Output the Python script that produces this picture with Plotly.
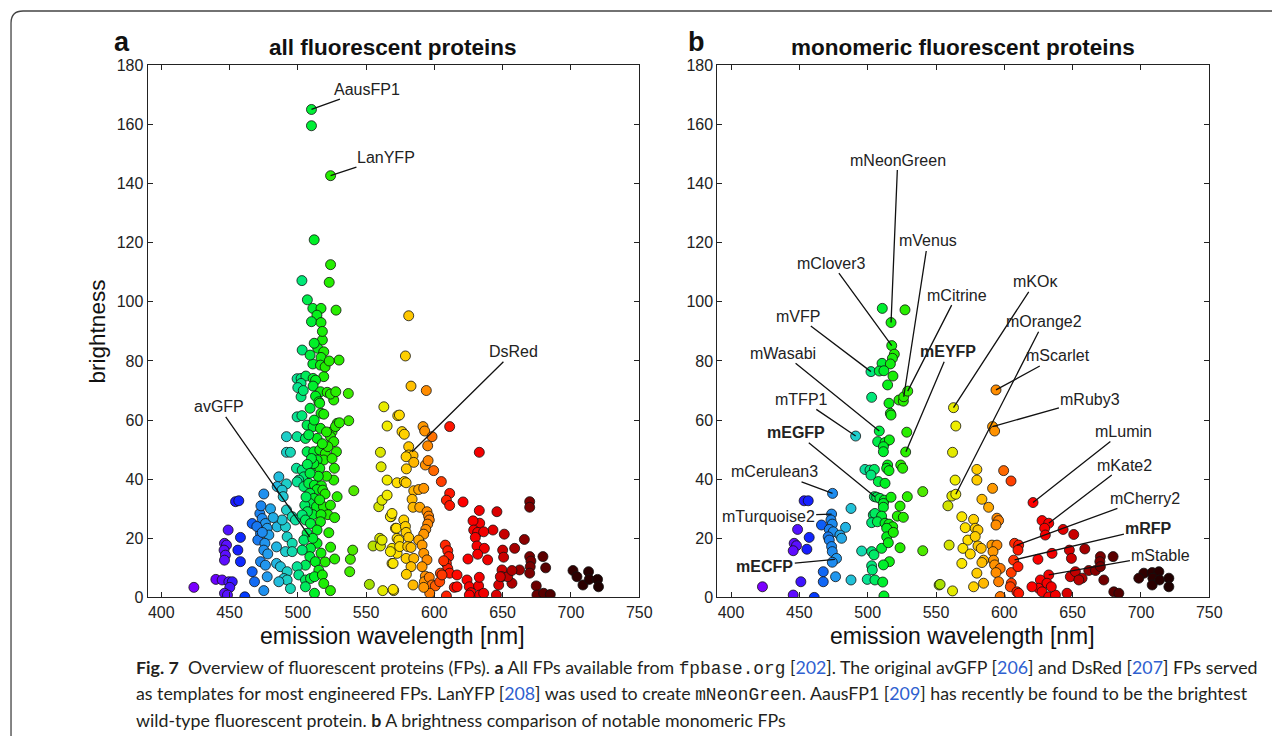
import plotly.graph_objects as go

# ---------------- data: panel a (all FPs) ----------------
wl_all = [
    510, 510, 524, 512, 524, 503, 523, 507, 511, 517, 528, 514, 510, 517, 518,
    514.6, 519, 503.2, 517, 530.2, 511, 516.6, 519, 499.5, 502.4, 505.9, 502.4, 511.2, 513, 502.4,
    511.2, 516.6, 521.5, 526.3, 523.9, 527.8, 513, 515.4, 537, 516, 517, 499.5, 503, 537.3, 506.8,
    511.2, 516.6, 525.1, 528.8, 527.6, 530.5, 491.7, 499.5, 505.6, 514.1, 523.9, 526.3, 528.3, 506.8, 511.7,
    516.1, 520.2, 519, 514.1, 510.5, 525.1, 526.8, 491.7, 494.6, 499, 503.2, 504.4, 500.7, 499.5, 516.1,
    511.7, 486.1, 526.3, 541, 475.1, 491.7, 484.9, 488.5, 489.3, 504.4, 508, 512.2, 517.3, 514.1, 508.8,
    518.3, 528.8, 511.7, 508.8, 513.7, 518.8, 523.9, 505.1,
    509, 512, 519, 521, 508, 522, 518, 510, 507, 521, 515, 509, 520, 506, 516, 522, 527, 511, 517, 507,
    500, 504, 520, 523, 518, 512, 509,
    466.6, 472.2, 473.9, 476.3, 477.6, 472.7, 478.8, 470.7, 475.9, 475.1, 478, 472.7, 476.3, 484.9, 491,
    488.5, 491.7, 495.9, 498.3, 492.2, 495.9, 503.2, 505.6, 509.3, 516.6, 522.7, 514.1, 506.8, 504.4, 514.1,
    509.3, 503.2, 508.8, 512.9, 505.6, 499.5, 515.4, 484.4, 491, 495.9, 484.4, 487.3, 492.2, 500.7, 505.6,
    509.3, 512.2, 518, 519, 523.9, 512.2, 505.6, 480, 482, 473, 470, 474, 517, 520, 511,
    454.4, 456.8, 449, 446.3, 447.8, 446, 447, 446.3, 458, 456.1, 458, 423.9, 440, 444.6, 449.5,
    452, 450.2, 446.3, 448.5, 461.2, 466.6, 468.3, 475.1, 477.6, 489.8, 492.2, 486.1, 494.6,
    538, 538.5, 540.2, 552.4, 524, 527,
    555.1, 560.5, 560, 561.7, 562.2, 570.2, 559.3, 561.7, 565.4, 563, 565.4, 573.2, 560.5, 561, 565.4,
    568.3, 571.5, 572.7, 569, 572.7, 569,
    581.2, 578.8, 582.9, 594.1, 574.4, 576.3, 578, 591.7, 592.9, 598.3, 595.1, 611.2, 581.2, 581.2, 584.4,
    579.3, 584.9, 579.5, 593.4, 595.4, 599.5, 605.1, 632.9, 572.7, 578, 579.3, 584.9, 588.5, 592.2, 583.7,
    584.4, 589.3, 594.6, 595.8, 596.3, 595.1, 593.7, 592.2, 611.2, 608.8, 611.2, 621, 632.9, 645.8, 669.8,
    669.8, 665.9, 651.2, 642.9, 633.2, 628.3, 628.8, 631.7, 636.1, 630, 631.2, 636.6, 639, 631.7, 624.6,
    658.8, 650, 650.7, 649.5, 649.5, 647.1, 645.4, 656.8, 653.7, 662.4, 656.8, 648.3, 679.5, 681.5, 669.8,
    670.7, 670.2, 669.8, 674.6, 675.1, 680, 684.9, 701.5, 704.4, 708.8, 712.9, 713.4, 719.5, 720.2,
    608, 609.8, 610.5, 608.8, 609.8, 611.2, 606.8, 604.4, 616.6, 614.6, 608.8, 616.6, 623.9, 625.6, 626.8,
    632.4, 633.2, 632.9, 625.6, 636.1,
    567.8, 569, 572.2, 573.9, 574.6, 577.6, 578.8, 579.3, 581.2, 580.5, 582.9, 579.3, 584.9, 582.9, 579.5,
    584.4, 569.8, 569.8, 567.8,
    588.5, 591, 592.2, 594.6, 591, 593.4, 592.7, 596.3, 598.3, 600.7, 596.6, 592.2, 603.9, 605.6,
]
br_all = [
    165.1, 159.6, 142.7, 121, 112.6, 107.2, 106.6, 100.7, 97.8, 97.8, 97.2, 95.5, 93.3, 93, 87.1,
    84.3, 83.1, 83.7, 81.2, 80.3, 79, 78.6, 74.7, 74, 74.1, 74.9, 72.4, 74.1, 73.5, 67.9,
    71.5, 69.6, 69.4, 66.8, 68.8, 69.6, 68.1, 66.2, 69, 65.7, 62.3, 61.1, 61.5, 59.8, 58.3,
    57.8, 57.2, 56.1, 58.9, 57.8, 59.1, 54.4, 54.4, 53.8, 53.8, 54.4, 52.7, 49.3, 49.3, 49.3,
    49.9, 48.7, 46.5, 46.5, 44.2, 47, 43.7, 49.1, 49.1, 43.7, 43.1, 40.8, 39.7, 39.1, 43.7,
    45.3, 40.8, 39.7, 36.1, 35, 38.4, 37.5, 36.3, 34.1, 37.5, 38.6, 38, 37.8, 36.5, 35.2,
    36.3, 34.1, 33.5, 31.8, 30.7, 30.7, 31.2, 31.2,
    64, 60, 62, 56, 55, 51, 52, 47, 45, 41, 41, 42, 35, 34, 33, 28, 27, 28, 28, 29,
    71, 70, 78, 80, 90, 86, 82,
    25, 28.4, 26.7, 25, 23.4, 21.7, 21.1, 19.4, 18.3, 16, 14.7, 12.1, 10.9, 23.9, 23.9,
    26.2, 29.6, 27.3, 26.2, 20.5, 18.3, 27.9, 26.2, 25, 25.6, 21.9, 22.8, 21.7, 19.4, 18.3,
    16.6, 16, 13.8, 12.1, 10.9, 10.4, 9.2, 17.1, 15.5, 15.5, 11.5, 10.4, 8.7, 7.6, 5.9,
    6.4, 7, 7.6, 4.7, 2.3, 1.4, 3.6, 30, 27, 31, 24, 22, 15, 12, 20,
    32.4, 32.7, 22.8, 18.3, 17.7, 16, 14.3, 12.6, 20.3, 16, 12.1, 3.4, 6.1, 5.9, 5.3,
    5.3, 3.4, 1.4, 0.8, 0.2, 8.7, 5.3, 2.3, 7, 6.4, 5.9, 5.3, 3,
    8.7, 12.9, 16, 4.4, 17, 13,
    17.4, 17.4, 20, 19.4, 2.3, 2.3, 30.7, 32.9, 34.6, 64.5, 58, 61.5, 49.1, 44.2, 39.7,
    27.3, 23.4, 20, 16.6, 14.9, 11.5,
    95.3, 81.7, 71.5, 70, 61.7, 56.1, 55.2, 57.8, 56.3, 54.4, 51.3, 57.8, 51, 48.2, 48,
    47.6, 45.7, 43.5, 44.8, 46.3, 42.9, 39.2, 49.1, 38.8, 39.2, 38.8, 36.1, 36.5, 36.9, 33.2,
    30.5, 30.5, 29, 27.5, 26.2, 24.8, 23, 21.4, 35.2, 32.9, 31.1, 32.3, 29.4, 29, 32.4,
    30.5, 19.6, 21.4, 22.8, 25.1, 25.9, 22.8, 22, 22.2, 20.3, 17.4, 16.6, 12.7, 14.6, 13,
    16.6, 16, 13.6, 9.3, 7, 4.2, 0.8, 4.8, 7, 9.3, 9.1, 7, 13.8, 10, 13.8,
    12.3, 10.4, 8.2, 3.9, 0.8, 1.4, 1, 9.1, 7, 4.2, 8.7, 6.1, 6.1, 3.6,
    17.7, 15.8, 13.8, 11.5, 9.8, 8.2, 12.4, 8.2, 7.6, 3.4, 0.5, 3.6, 5.9, 3.6, 1.6,
    3.9, 0.8, 6.8, 0.8, 1.4,
    27.3, 28.4, 23.4, 19.4, 17.2, 26.2, 24, 22, 20.3, 17.2, 16.9, 13.2, 13.2, 10.4, 7.8,
    4.2, 2.7, 11.5, 15.5,
    19.4, 17.7, 14.9, 12.7, 10.4, 7.2, 5.3, 6.8, 4.2, 3.9, 1.4, 3.4, 5.3, 7.6,
]

# ---------------- data: panel b (monomeric FPs) ----------------
wl_mono = [
    510.7, 517.1, 527.3, 517.6, 519.5, 518.1, 510.5, 516.6, 518.5, 502.4, 508.5, 511.9, 514.6, 502.9, 522.9,
    526.1, 526.4, 529.3, 515.6, 516.6, 517.1,
    491.2, 508.5, 528.6, 507.3, 512.7, 515.9, 511.5, 511.5, 527.8, 514.6, 513.9, 515.6, 524.2, 525.6,
    498, 501.7, 504.9, 502.4, 507.8, 512.7, 540.3, 474.3, 504.9, 506.6, 509, 512.2, 511.5, 511.5, 517.1,
    529, 523.7, 521.7, 526.1, 453.5, 456.5, 487.8, 473.6, 504.1, 505.3, 510.2, 502.9, 507.1, 512.7, 515.6,
    518.3, 513.9, 513.9, 518.8, 473.1, 474.1, 466.2, 471.9, 474.8, 483.8, 479.7, 480.9, 471.1, 471.9,
    448.7, 457.2, 446.2, 447.9, 445.5, 455.5, 473.6, 474.1, 477.2, 474.1, 495.6, 502.9, 504.6, 510.2,
    515.1, 515.9, 511.5, 502.9, 503.4, 523.7, 540.3, 467.5, 467.5, 476.5, 451.1, 487.8, 499.7, 505.3, 511,
    423, 445.5, 460.9, 511.9, 552.3,
    562.8, 564.5, 562.1, 564, 561.6, 564.5, 558.7, 559.6, 553, 562.1,
    593.9, 591.4, 592.9, 579.9, 579.9, 583.6, 588.5, 591.4, 594.6, 595.8, 593.9, 599.5, 604.9,
    568.9, 571.4, 573.3, 577.5, 578.7, 580.7, 578.7, 569.7, 575.1, 568.9, 580.7, 583.1, 584.8, 583.6,
    579.9, 584.8, 577.5, 590.9, 594.6, 591.7, 592.1, 592.9, 597, 593.9, 595.8, 597,
    605.1, 605.1, 604.4, 609.2, 610.5, 607.5, 610.5, 610, 606.8, 610,
    621, 627.6, 632.5, 629.5, 630, 643, 650.8, 647.6, 634.9, 649.1, 658.9, 624.6, 632.5, 626.4, 631.2,
    625.1, 620.2, 627.6, 632.5, 637.4, 645.9, 648.3, 652, 656.9, 661.8, 666.7, 670.3, 669.9, 670.3, 672.8,
    679.6, 680.1, 683.8, 634.4, 654.5,
    702.1, 708.2, 713.1, 708.7, 708.2, 713.6, 720.4, 720.4, 698.4,
]
br_mono = [
    97.8, 93, 97.3, 85.2, 82.3, 80.9, 79.2, 79, 74.9, 76.4, 76.6, 76.7, 71.9, 67.7, 66.8,
    66.4, 67.9, 69.8, 65.7, 62.3, 61.7,
    54.6, 56.3, 55.9, 52.7, 52.4, 53.3, 51, 49.3, 49.2, 44.8, 43.7, 42.9, 44.8, 43.7,
    43.3, 43.1, 43.3, 41.4, 39.2, 38.6, 35.8, 35.2, 34.1, 33.9, 33.5, 32.9, 31.8, 30.5, 33.9,
    34.1, 30.9, 27.5, 27.1, 32.7, 32.7, 30.1, 28.2, 27.9, 28.4, 27.5, 25.3, 25.6, 25.1, 24.8,
    23.9, 23.4, 20.5, 22, 26.2, 24.8, 24.5, 23, 22.2, 23.7, 21.1, 20, 20.5, 19.4,
    23, 20.3, 18.3, 17.5, 15.8, 16.3, 17.2, 15.5, 13.2, 11.9, 15.7, 15.5, 14.4, 16.6,
    18.5, 12.1, 11, 10.7, 9.3, 16.8, 15.8, 8.7, 5.3, 7, 5.3, 5.9, 6.1, 5.9, 5.2,
    3.6, 0.8, 0, 0.5, 4.2,
    64.2, 58, 49.1, 39.7, 34.3, 34.9, 31, 17.7, 4.4, 2.2,
    70.2, 57.8, 56.3, 43.3, 39.7, 33.2, 30.5, 36.9, 26.8, 26, 24.5, 42.9, 39.4,
    27.3, 23.6, 19.4, 26.4, 23.4, 22.8, 20.6, 16.6, 14.7, 11.5, 17.4, 16.6, 12.6, 11.8,
    8.2, 4.8, 3.6, 17.7, 17.7, 15.5, 12.6, 11, 9.8, 8.4, 5.3, 0.3,
    8.4, 4.8, 3.6, 1.9, 1.4, 18.3, 17.7, 16, 12.6, 10.4,
    32.1, 26, 25.1, 23.4, 21.1, 23, 21.3, 16, 14.9, 13.2, 16.4, 12.9, 7.6, 5.9, 4.8,
    3.1, 3.6, 1.9, 0.2, 0.8, 1.4, 7, 8.7, 6.5, 9.1, 9.1, 13.8, 12.1, 10.4, 5.9,
    13.8, 1.9, 1.4, 3.6, 5.9,
    8.2, 8.4, 8.7, 6.5, 4.2, 5.9, 6.5, 3.6, 6.5,
]

# labelled proteins: name, wavelength, brightness of the labelled point
names_a = ["AausFP1", "LanYFP", "avGFP", "DsRed"]
names_a_wl = [510, 524, 508.7, 583.7]
names_a_br = [165.1, 142.7, 20.5, 49.3]

names_b = ["mNeonGreen", "mVenus", "mClover3", "mCitrine", "mVFP", "mWasabi", "mTFP1",
           "<b>mEGFP</b>", "mCerulean3", "mTurquoise2", "<b>mECFP</b>", "<b>mEYFP</b>",
           "mKOκ", "mOrange2", "mScarlet", "mRuby3", "mLumin", "mKate2", "mCherry2",
           "<b>mRFP</b>", "mStable"]
names_b_wl = [517.1, 526.4, 517.6, 529.3, 502.4, 508.5, 491.2, 505.3, 474.3, 473.6, 476.0, 528.0,
              562.8, 564.5, 593.9, 591.4, 621.0, 632.5, 609.2, 607.5, 632.5]
names_b_br = [93.0, 67.9, 85.2, 69.8, 76.4, 56.3, 54.6, 34.1, 35.2, 28.2, 12.9, 49.3,
              64.2, 34.9, 70.2, 57.8, 32.1, 25.1, 17.7, 12.7, 7.6]

# label text placement (data units of the respective panel)
lab_a_x = [550.9, 564.9, 442.1, 658.0]
lab_a_y = [172.0, 149.0, 64.5, 83.1]
lab_b_x = [522.0, 544.0, 473.6, 565.2, 448.7, 438.2, 451.6, 447.9, 432.0, 427.2, 424.7, 559.1,
           622.6, 628.8, 639.3, 663.0, 686.9, 688.2, 702.8, 705.8, 714.6]
lab_b_y = [148.0, 120.6, 113.1, 102.3, 95.2, 82.6, 67.0, 55.7, 42.5, 27.5, 10.6, 83.1,
           106.8, 93.3, 81.7, 67.1, 56.1, 44.8, 33.5, 23.4, 14.3]

x_ticks = [400, 450, 500, 550, 600, 650, 700, 750]
y_ticks = [0, 20, 40, 60, 80, 100, 120, 140, 160, 180]

# ---------------- styling ----------------
W, H = 1285, 745
FONT = "Liberation Sans, Arial, sans-serif"
# page -> picture correction measured from earlier renders
SX, SY, OY = 0.988, 0.978, 7.5

stops = [(420, '#7f00ff'), (440, '#6a00ff'), (448, '#5a10ff'), (455, '#1a1aff'), (462, '#0040ff'),
         (470, '#1878f0'), (477, '#2299ee'), (485, '#22b8e0'), (491, '#20cccc'), (497, '#10dda8'),
         (503, '#00e878'), (508, '#00ee44'), (513, '#00f020'), (520, '#22ee00'), (535, '#30ee00'),
         (545, '#66e600'), (552, '#a0e000'), (558, '#cce000'), (564, '#eeee00'), (572, '#ffe000'),
         (580, '#ffcc00'), (588, '#ffaa00'), (595, '#ff8800'), (602, '#ff5500'), (610, '#ff1800'),
         (620, '#ff0000'), (640, '#ee0000'), (650, '#cc0000'), (660, '#a00000'), (670, '#7a0000'),
         (680, '#5a0000'), (695, '#380000'), (720, '#200000')]
cmin, cmax = 420, 720
cscale = [[(w - cmin) / (cmax - cmin), c] for w, c in stops]


def px(x):
    return min(1.0, (x / SX) / W)


def py(y):
    return max(0.0, 1 - ((y - OY) / SY) / H)


fig = go.Figure()
for wl, br, xa, ya in [(wl_all, br_all, 'x', 'y'), (wl_mono, br_mono, 'x2', 'y2')]:
    fig.add_trace(go.Scatter(
        x=wl, y=br, mode='markers', xaxis=xa, yaxis=ya, showlegend=False, hoverinfo='x+y',
        marker=dict(size=10, color=wl, colorscale=cscale, cmin=cmin, cmax=cmax,
                    line=dict(color='#111', width=0.8), opacity=1)))

dom_a = [px(147.3), px(638)]
dom_b = [px(716), px(1207)]
dom_y = [py(597.4), py(65)]

axis_common = dict(showgrid=False, zeroline=False, showline=True, linecolor='#222', linewidth=1,
                   mirror='ticks', ticks='inside', ticklen=5, tickcolor='#222', tickwidth=1,
                   tickfont=dict(family=FONT, size=16, color='#222'))
fig.update_layout(
    width=W, height=H, margin=dict(l=0, r=0, t=0, b=0),
    paper_bgcolor='white', plot_bgcolor='white',
    xaxis=dict(domain=dom_a, range=[390, 750], tickvals=x_ticks, anchor='y', **axis_common),
    yaxis=dict(domain=dom_y, range=[0, 180], tickvals=y_ticks, anchor='x', **axis_common),
    xaxis2=dict(domain=dom_b, range=[390, 750], tickvals=x_ticks, anchor='y2', **axis_common),
    yaxis2=dict(domain=dom_y, range=[0, 180], tickvals=y_ticks, anchor='x2', **axis_common),
)

ann = []
lab_font = dict(family=FONT, size=16, color='#222')
for n, x, y, tx, ty in zip(names_a, names_a_wl, names_a_br, lab_a_x, lab_a_y):
    ann.append(dict(text=n, x=x, y=y, ax=tx, ay=ty, xref='x', yref='y', axref='x', ayref='y',
                    showarrow=True, arrowhead=0, arrowwidth=1.3, arrowcolor='#111', standoff=0,
                    font=lab_font))
for n, x, y, tx, ty in zip(names_b, names_b_wl, names_b_br, lab_b_x, lab_b_y):
    ann.append(dict(text=n, x=x, y=y, ax=tx, ay=ty, xref='x2', yref='y2', axref='x2', ayref='y2',
                    showarrow=True, arrowhead=0, arrowwidth=1.3, arrowcolor='#111', standoff=0,
                    font=lab_font))


def paper_text(text, x, y, size, bold=False, angle=0, xanchor='center', family=FONT, color='#111'):
    return dict(text=f"<b>{text}</b>" if bold else text, x=px(x), y=py(y), xref='paper', yref='paper',
                showarrow=False, xanchor=xanchor, yanchor='middle', textangle=angle,
                font=dict(family=family, size=size, color=color))


ann += [
    paper_text("a", 122, 42, 27, bold=True),
    paper_text("b", 695, 42, 27, bold=True),
    paper_text("all fluorescent proteins", 392, 47, 22.5, bold=True),
    paper_text("monomeric fluorescent proteins", 961, 47, 22.5, bold=True),
    paper_text("emission wavelength [nm]", 392, 636, 23),
    paper_text("emission wavelength [nm]", 961, 636, 23),
    paper_text("brightness", 97, 331, 22.5, angle=-90),
]

CAP = "Lato, Noto Sans, sans-serif"
MONO = "font-family:'Liberation Mono', monospace"
BL = "color:#2f5fd0"
cap_lines = [
    "<b>Fig. 7</b>  Overview of fluorescent proteins (FPs). <b>a</b> All FPs available from "
    f"<span style=\"{MONO}\">fpbase.org</span> [<span style=\"{BL}\">202</span>]. The original avGFP "
    f"[<span style=\"{BL}\">206</span>] and DsRed [<span style=\"{BL}\">207</span>] FPs served",
    f"as templates for most engineered FPs. LanYFP [<span style=\"{BL}\">208</span>] was used to create "
    f"<span style=\"{MONO}\">mNeonGreen</span>. AausFP1 [<span style=\"{BL}\">209</span>] has recently be found to be the brightest",
    "wild-type fluorescent protein. <b>b</b> A brightness comparison of notable monomeric FPs",
]
for i, line in enumerate(cap_lines):
    ann.append(paper_text(line, 134, 668 + 26 * i, 17.8, xanchor='left', family=CAP, color='#231f20'))

fig.update_layout(annotations=ann)

# frame around figure (rounded top-left corner)
r = 12
top = py(10.5)
path = (f"M {px(11)} 0 L {px(11)} {py(10.5 + r)} "
        f"Q {px(11)} {top} {px(11 + r)} {top} L 1 {top}")
fig.add_shape(type='path', path=path, xref='paper', yref='paper',
              line=dict(color='#444', width=1.3))

fig.write_html("out.html", config={"displayModeBar": False},
               post_script="document.body.style.margin='0px';")
